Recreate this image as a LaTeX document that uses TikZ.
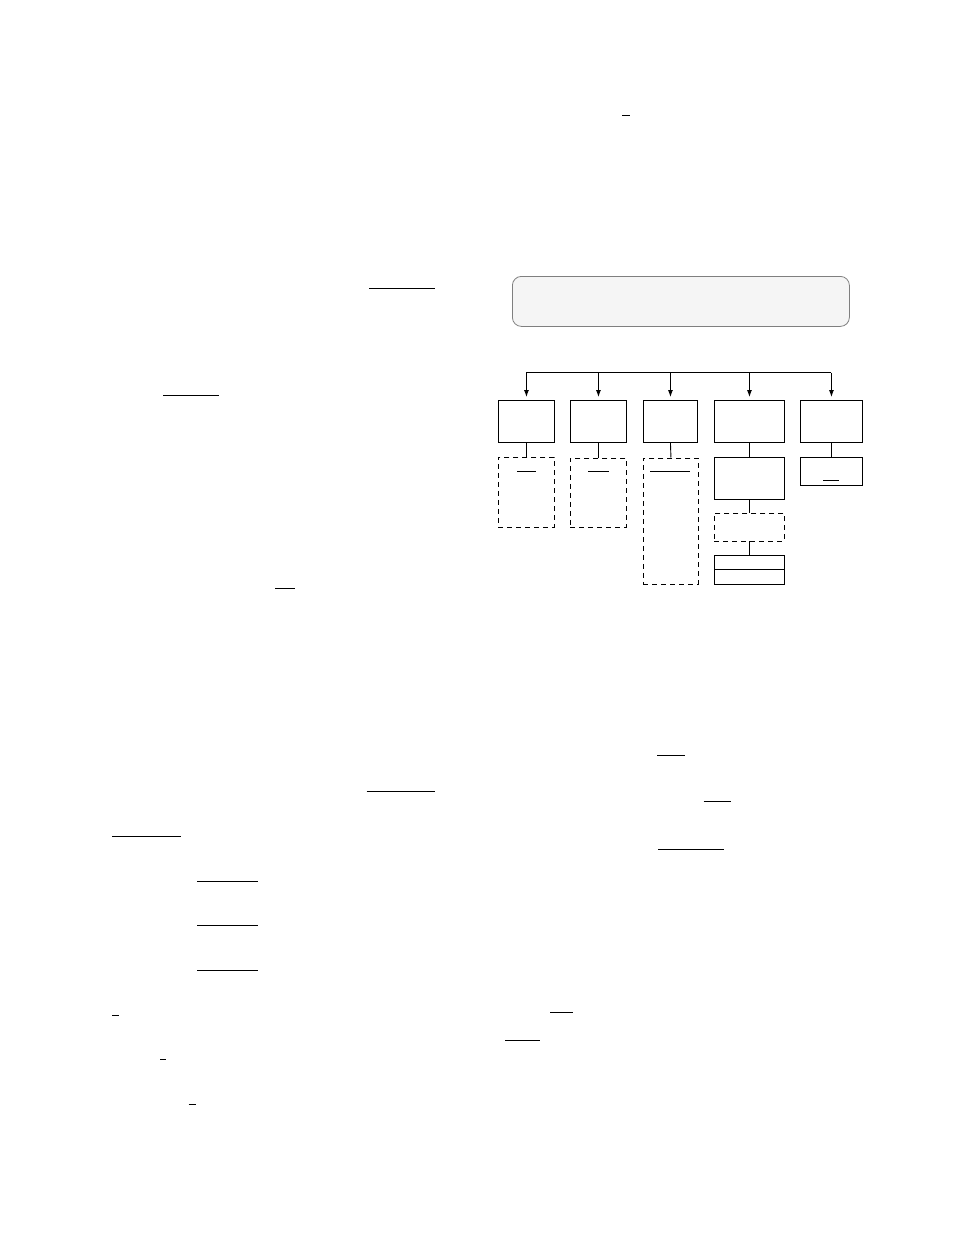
\documentclass[tikz,border=0pt]{standalone}
\usetikzlibrary{arrows.meta}
\definecolor{panelfill}{HTML}{F5F5F5}
\definecolor{panelline}{HTML}{7F7F7F}
\tikzset{
  solidbox/.style={draw=black, line width=0.9pt, inner sep=0pt, anchor=north west},
  dashbox/.style={draw=black, line width=0.9pt, inner sep=0pt, anchor=north west, dash pattern=on 5pt off 4pt},
  panel/.style={draw=panelline, fill=panelfill, line width=0.8pt, rounded corners=9pt, inner sep=0pt, anchor=north west},
  link/.style={line width=0.9pt},
  feed/.style={line width=0.9pt, -{Latex[length=7pt,width=5pt]}, shorten >=3pt},
  rule/.style={line width=0.9pt}
}
\begin{document}
\begin{tikzpicture}[x=1pt,y=-1pt]
\useasboundingbox (0,0) rectangle (954,1235);
% panel
\node[panel, minimum width=337pt, minimum height=50pt] (top) at (512,276) {};
% first row
\node[solidbox, minimum width=56pt, minimum height=42pt] (b1) at (498,400) {};
\node[solidbox, minimum width=56pt, minimum height=42pt] (b2) at (570,400) {};
\node[solidbox, minimum width=54pt, minimum height=42pt] (b3) at (643,400) {};
\node[solidbox, minimum width=70pt, minimum height=42pt] (b4) at (714,400) {};
\node[solidbox, minimum width=62pt, minimum height=42pt] (b5) at (800,400) {};
% second row
\node[dashbox, minimum width=56pt, minimum height=70pt] (d1) at (498,456.5) {};
\node[dashbox, minimum width=56pt, minimum height=69pt] (d2) at (570,457.5) {};
\node[dashbox, minimum width=55pt, minimum height=126pt] (d3) at (643,457.5) {};
\node[solidbox, minimum width=70pt, minimum height=42pt] (b4b) at (714,456.5) {};
\node[solidbox, minimum width=62pt, minimum height=28pt] (b5b) at (800,456.5) {};
\node[dashbox, minimum width=70pt, minimum height=28pt] (d4) at (714,512.5) {};
\node[solidbox, minimum width=70pt, minimum height=29pt] (b4d) at (714,554.5) {};
\draw[link] (b4d.west |- 0,569.5) -- (b4d.east |- 0,569.5);
% bus
\coordinate (t1) at (b1.north |- 0,372.7);
\coordinate (t2) at (b2.north |- 0,372.7);
\coordinate (t3) at (b3.north |- 0,372.7);
\coordinate (t4) at (b4.north |- 0,372.7);
\coordinate (t5) at (b5.north |- 0,372.7);
\draw[link] (t1) -- (t5);
\draw[feed] (t1) -- (b1.north);
\draw[feed] (t2) -- (b2.north);
\draw[feed] (t3) -- (b3.north);
\draw[feed] (t4) -- (b4.north);
\draw[feed] (t5) -- (b5.north);
% vertical links
\draw[link] (b1.south) -- (d1.north);
\draw[link] (b2.south) -- (d2.north);
\draw[link] (b3.south) -- (d3.north);
\draw[link] (b4.south) -- (b4b.north);
\draw[link] (b5.south) -- (b5b.north);
\draw[link] (b4b.south) -- (d4.north);
\draw[link] (d4.south) -- (b4d.north);
% rules inside boxes
\draw[rule] (517,471) -- (535.7,471);
\draw[rule] (588.3,471) -- (608.7,471);
\draw[rule] (650,471) -- (690,471);
\draw[rule] (823.3,480) -- (839,480);
% scattered rules on the page
\draw[rule] (622,115.5) -- (630,115.5);
\draw[rule] (369,288) -- (435,288);
\draw[rule] (163,395) -- (219,395);
\draw[rule] (275,588) -- (295,588);
\draw[rule] (657.4,755) -- (685,755);
\draw[rule] (366.6,791) -- (434.5,791);
\draw[rule] (703.5,801.7) -- (731,801.7);
\draw[rule] (112,836) -- (180.5,836);
\draw[rule] (658.4,849) -- (724,849);
\draw[rule] (197,881) -- (258,881);
\draw[rule] (197,925) -- (258,925);
\draw[rule] (197,970) -- (258,970);
\draw[rule] (112,1015) -- (119.4,1015);
\draw[rule] (550,1012.7) -- (572.6,1012.7);
\draw[rule] (505,1040) -- (540,1040);
\draw[rule] (160,1059) -- (166.4,1059);
\draw[rule] (188.7,1104) -- (196,1104);
\end{tikzpicture}
\end{document}
